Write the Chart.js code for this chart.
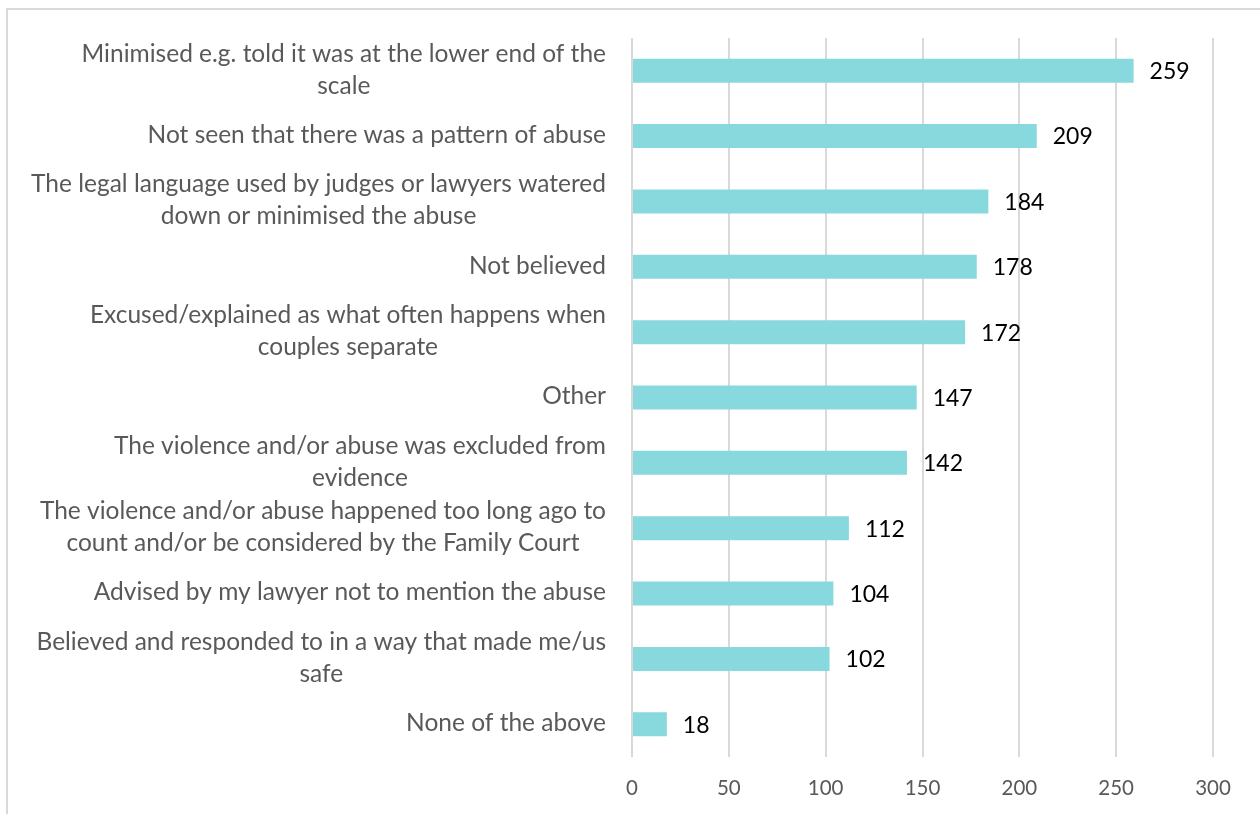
<!DOCTYPE html>
<html lang="en">
<head>
    <meta charset="UTF-8">
    <title>Responses to abuse disclosure</title>
    <script src="https://cdn.jsdelivr.net/npm/chart.js"></script>
    <style>
        body { margin: 0; background: #ffffff; }
        #frame { position: absolute; left: 6px; top: 8px; width: 1260px; height: 820px;
                 border-left: 2px solid #d9d9d9; border-top: 2px solid #d9d9d9; }
        #wrap { position: absolute; left: 0; top: 0; width: 1260px; height: 814px; }
    </style>
</head>
<body>
    <div id="frame"></div>
    <div id="wrap"><canvas id="barChart" width="1260" height="814"></canvas></div>
    <script>
        // category labels, already split into the lines they wrap to
        const categories = [
            ['Minimised e.g. told it was at the lower end of the', 'scale'],
            ['Not seen that there was a pattern of abuse'],
            ['The legal language used by judges or lawyers watered', 'down or minimised the abuse'],
            ['Not believed'],
            ['Excused/explained as what often happens when', 'couples separate'],
            ['Other'],
            ['The violence and/or abuse was excluded from', 'evidence'],
            ['The violence and/or abuse happened too long ago to', 'count and/or be considered by the Family Court'],
            ['Advised by my lawyer not to mention the abuse'],
            ['Believed and responded to in a way that made me/us', 'safe'],
            ['None of the above']
        ];
        const counts = [259, 209, 184, 178, 172, 147, 142, 112, 104, 102, 18];
        const xMin = 0, xMax = 300, xStep = 50;

        const FONT = 'Lato, Carlito, Calibri, sans-serif';

        // draws the wrapped category names (right aligned, lines centred) and the value labels
        const labelPlugin = {
            id: 'labels',
            afterDraw: (chart) => {
                const ctx = chart.ctx;
                const yScale = chart.scales.y;
                const xScale = chart.scales.x;
                ctx.save();
                ctx.font = '24.5px ' + FONT;
                ctx.textBaseline = 'middle';
                ctx.textAlign = 'center';
                ctx.fillStyle = '#595959';
                const right = chart.chartArea.left - 26;
                const lineH = 32;
                categories.forEach((lines, i) => {
                    const yc = yScale.getPixelForValue(i);
                    const w = Math.max(...lines.map(l => ctx.measureText(l).width));
                    const xc = right - w / 2;
                    const y0 = yc - (lines.length - 1) * lineH / 2 - 1;
                    lines.forEach((l, k) => ctx.fillText(l, xc, y0 + k * lineH));
                });
                // value labels
                ctx.font = '23px ' + FONT;
                ctx.textAlign = 'left';
                ctx.fillStyle = '#000000';
                counts.forEach((v, i) => {
                    ctx.fillText(String(v), xScale.getPixelForValue(v) + 16, yScale.getPixelForValue(i) + 1);
                });
                ctx.restore();
            }
        };

        const ctx = document.getElementById('barChart').getContext('2d');
        const barChart = new Chart(ctx, {
            type: 'bar',
            data: {
                labels: categories.map(c => c.join(' ')),
                datasets: [{
                    data: counts,
                    backgroundColor: '#88d9dd',
                    borderWidth: 0,
                    categoryPercentage: 1,
                    barPercentage: 0.367
                }]
            },
            options: {
                indexAxis: 'y',
                responsive: false,
                animation: false,
                layout: { padding: { top: 38, right: 47, bottom: 0, left: 0 } },
                plugins: { legend: { display: false }, tooltip: { enabled: false } },
                scales: {
                    x: {
                        min: xMin, max: xMax,
                        ticks: { stepSize: xStep, color: '#595959', padding: 19, font: { family: FONT, size: 20.5 } },
                        grid: { color: '#d9d9d9', lineWidth: 2, drawTicks: false },
                        border: { display: false },
                        afterFit: (scale) => { scale.height = 57; }
                    },
                    y: {
                        ticks: { display: false },
                        grid: { display: false },
                        border: { display: false },
                        afterFit: (scale) => { scale.width = 632; }
                    }
                }
            },
            plugins: [labelPlugin]
        });
    </script>
</body>
</html>
